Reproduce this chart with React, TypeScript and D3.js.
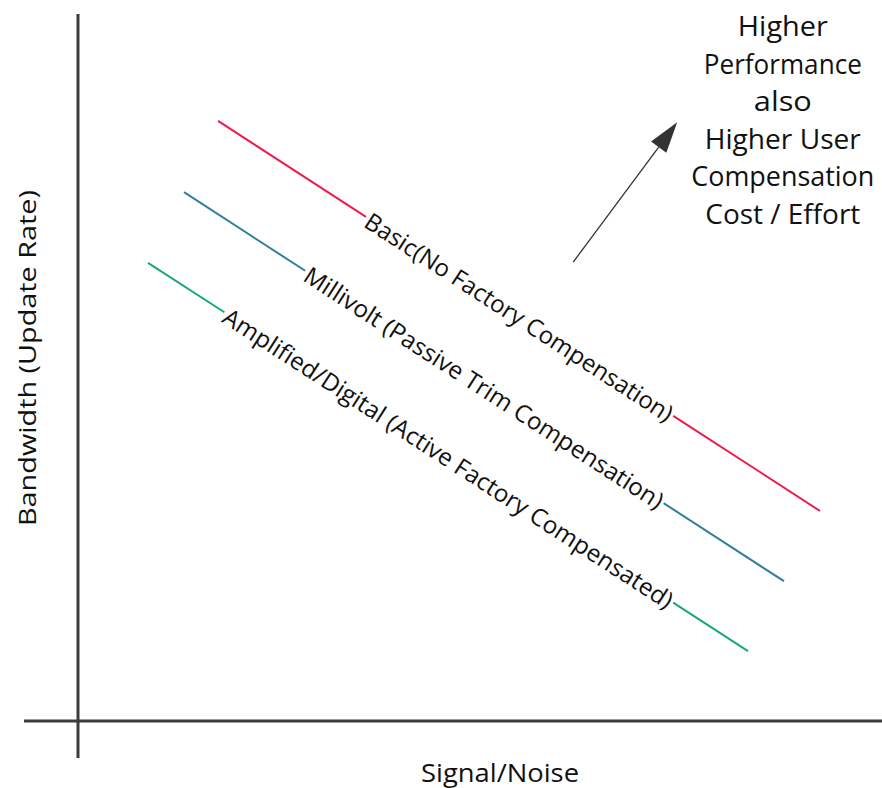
import React from "react";
import * as d3 from "d3";

// ---- data ----
const seriesNames = [
  "Basic(No Factory Compensation)",
  "Millivolt (Passive Trim Compensation)",
  "Amplified/Digital (Active Factory Compensated)",
];
const startX = [1.75, 1.325, 0.875];
const startY = [8.5, 7.49, 6.49];
const endX = [9.275, 8.825, 8.375];
const endY = [2.975, 1.98, 0.99];
const labelFromX = [3.6, 2.84, 1.83];
const labelToX = [7.44, 7.32, 7.44];
const seriesColors = ["#ee1c4e", "#2f7f9d", "#1aa877"];

const xAxisTitle = "Signal/Noise";
const yAxisTitle = "Bandwidth (Update Rate)";
const noteLines = ["Higher", "Performance", "also", "Higher User", "Compensation", "Cost / Effort"];
const arrowFrom = [6.19, 6.5];
const arrowTo = [7.49, 8.48];

const W = 882;
const H = 788;
const FONT = "'Open Sans', 'Noto Sans', sans-serif";

export default function App() {
  const x = d3.scaleLinear().domain([0, 10]).range([78, 878]);
  const y = d3.scaleLinear().domain([0, 10]).range([721, 15]);

  const yAt = (i: number, xv: number) =>
    startY[i] + ((endY[i] - startY[i]) * (xv - startX[i])) / (endX[i] - startX[i]);

  const line = d3
    .line<[number, number]>()
    .x((d) => x(d[0]))
    .y((d) => y(d[1]));

  // arrow geometry
  const ax0 = x(arrowFrom[0]);
  const ay0 = y(arrowFrom[1]);
  const ax1 = x(arrowTo[0]);
  const ay1 = y(arrowTo[1]);
  const aang = Math.atan2(ay1 - ay0, ax1 - ax0);
  const headLen = 31;
  const headHalf = 9.5;
  const bx = ax1 - headLen * Math.cos(aang);
  const by = ay1 - headLen * Math.sin(aang);
  const px = -Math.sin(aang);
  const py = Math.cos(aang);
  const head = `M${ax1},${ay1} L${bx + px * headHalf},${by + py * headHalf} L${bx - px * headHalf},${by - py * headHalf} Z`;

  const noteWidths = [90, 158, 58, 156, 183, 155];

  return (
    <svg
      width={W}
      height={H}
      style={{ position: "absolute", left: 0, top: 0, background: "#fff" }}
      fontFamily={FONT}
    >
      <rect width={W} height={H} fill="#fff" />
      {/* axes */}
      <line x1={x(0)} x2={x(0)} y1={14} y2={758} stroke="#3c3c3c" strokeWidth={3} />
      <line x1={24} x2={882} y1={y(0)} y2={y(0)} stroke="#3c3c3c" strokeWidth={3} />

      {/* series */}
      {seriesNames.map((name, i) => {
        const p0: [number, number] = [startX[i], startY[i]];
        const g0: [number, number] = [labelFromX[i], yAt(i, labelFromX[i])];
        const g1: [number, number] = [labelToX[i], yAt(i, labelToX[i])];
        const p1: [number, number] = [endX[i], endY[i]];
        const sx = x(g0[0]);
        const sy = y(g0[1]);
        const ex = x(g1[0]);
        const ey = y(g1[1]);
        const ang = (Math.atan2(ey - sy, ex - sx) * 180) / Math.PI;
        const len = Math.hypot(ex - sx, ey - sy);
        return (
          <g key={name}>
            <path d={line([p0, g0]) || ""} stroke={seriesColors[i]} strokeWidth={2} fill="none" />
            <path d={line([g1, p1]) || ""} stroke={seriesColors[i]} strokeWidth={2} fill="none" />
            <text
              transform={`translate(${sx},${sy}) rotate(${ang})`}
              x={2}
              dy="0.4em"
              fontSize={24}
              fill="#111"
              textLength={len - 4}
              lengthAdjust="spacingAndGlyphs"
            >
              {name}
            </text>
          </g>
        );
      })}

      {/* arrow */}
      <line x1={ax0} y1={ay0} x2={bx} y2={by} stroke="#333" strokeWidth={1.3} />
      <path d={head} fill="#333" />

      {/* annotation */}
      {noteLines.map((t, i) => (
        <text
          key={i}
          x={x(8.81)}
          y={36 + i * 37.5}
          textAnchor="middle"
          fontSize={28}
          fill="#111"
          textLength={noteWidths[i]}
          lengthAdjust="spacingAndGlyphs"
        >
          {t}
        </text>
      ))}

      {/* axis titles */}
      <text
        x={500}
        y={782}
        textAnchor="middle"
        fontSize={25}
        fill="#111"
        textLength={158}
        lengthAdjust="spacingAndGlyphs"
      >
        {xAxisTitle}
      </text>
      <text
        transform={`translate(36,${358}) rotate(-90)`}
        textAnchor="middle"
        fontSize={24}
        fill="#111"
        textLength={336}
        lengthAdjust="spacingAndGlyphs"
      >
        {yAxisTitle}
      </text>
    </svg>
  );
}
